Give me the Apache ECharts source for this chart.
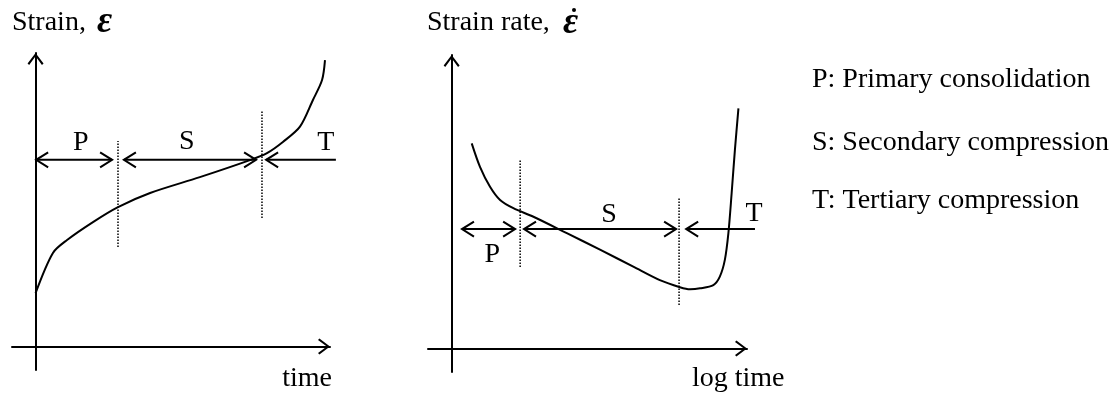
<!DOCTYPE html>
<html>
<head>
<meta charset="utf-8">
<script src="https://cdn.jsdelivr.net/npm/echarts@6/dist/echarts.min.js"></script>
<style>
  html, body { margin: 0; padding: 0; background: #fff; }
  #chart { width: 1114px; height: 397px; }
</style>
</head>
<body>
<div id="chart"></div>
<script>
// ---- Creep curve: strain against time ----
const strainTime  = [0, 0.59, 1.07, 1.95, 2.80, 3.89, 5.58, 7.28, 7.86, 8.40, 8.98, 9.42, 9.73, 9.83];
const strainValue = [1.82, 3.19, 3.63, 4.24, 4.75, 5.23, 5.77, 6.35, 6.59, 6.97, 7.49, 8.40, 9.08, 9.76];

// ---- Strain rate against log time ----
const rateLogTime = [0.68, 0.96, 1.30, 1.64, 2.09, 2.77, 3.90, 5.04, 6.15, 7.05, 7.73, 8.07, 8.41, 8.86, 9.08, 9.25, 9.37, 9.48, 9.59, 9.71];
const rateValue   = [6.99, 6.19, 5.51, 5.06, 4.78, 4.49, 3.93, 3.36, 2.79, 2.33, 2.09, 2.02, 2.05, 2.16, 2.45, 3.02, 3.93, 5.29, 6.76, 8.18];

// Stage boundaries: [x, yLow, yHigh]
const strainBounds = [[2.80, 3.39, 7.00], [7.69, 4.38, 8.06]];
const rateBounds   = [[2.32, 2.78, 6.42], [7.70, 1.48, 5.12]];

// Stage spans: [xFrom, xTo, level]; the arrow head sits at xTo (and at xFrom for two-headed spans)
const stageNames  = ['P', 'S', 'T'];
const stageHeads  = ['both', 'both', 'end'];
const strainSpans = [[0.02, 2.60, 6.36], [3.00, 7.49, 6.36], [10.20, 7.83, 6.36]];
const rateSpans   = [[0.35, 2.15, 4.07], [2.45, 7.60, 4.07], [10.27, 7.94, 4.07]];

// Stage letter anchors: [x, y]
const strainStageLabels = [[1.54, 6.95], [5.14, 6.97], [9.86, 6.93]];
const rateStageLabels   = [[1.38, 3.19], [5.33, 4.55], [10.24, 4.60]];

// Key text
const keyLines = ['P: Primary consolidation', 'S: Secondary compression', 'T: Tertiary compression'];

const FONT = '"Liberation Serif", "Times New Roman", serif';
const FS = 28;
const chevron = 'path://M8,0 L16,10.6 L14.4,12 L8,3.2 L1.6,12 L0,10.6 Z';

function zip(xs, ys) { return xs.map((x, i) => [x, ys[i]]); }

function axis(gridIndex) {
  return {
    gridIndex, type: 'value', min: -0.8, max: 10,
    axisLine: { show: true, onZero: true, symbol: ['none', chevron], symbolSize: [16, 12], symbolOffset: [0, -6],
                lineStyle: { color: '#000', width: 2 } },
    axisTick: { show: false }, axisLabel: { show: false }, splitLine: { show: false }
  };
}

function renderSpan(params, api) {
  const a = api.coord([api.value(0), api.value(2)]);
  const b = api.coord([api.value(1), api.value(2)]);
  const both = stageHeads[params.dataIndex] === 'both';
  const style = { stroke: '#000', lineWidth: 2, fill: null };
  const dir = Math.sign(b[0] - a[0]);
  const head = (p, d) => ({ type: 'polyline', shape: { points: [[p[0] + d * 12, p[1] - 7.5], [p[0], p[1]], [p[0] + d * 12, p[1] + 7.5]] }, style });
  const children = [{ type: 'line', shape: { x1: a[0], y1: a[1], x2: b[0], y2: b[1] }, style }, head(b, -dir)];
  if (both) children.push(head(a, dir));
  return { type: 'group', children };
}

function panelSeries(idx, curve, bounds, spans, labels) {
  const out = [];
  out.push({
    type: 'line', xAxisIndex: idx, yAxisIndex: idx, data: curve, smooth: 0.3,
    showSymbol: false, lineStyle: { color: '#000', width: 2 }, z: 5
  });
  bounds.forEach(b => out.push({
    type: 'line', xAxisIndex: idx, yAxisIndex: idx, data: [[b[0], b[1]], [b[0], b[2]]],
    showSymbol: false, lineStyle: { color: '#000', width: 1.5, type: [1.5, 1.5] }, z: 4
  }));
  out.push({
    type: 'custom', xAxisIndex: idx, yAxisIndex: idx, data: spans, renderItem: renderSpan,
    encode: { x: [0, 1], y: 2 }, clip: false, z: 6
  });
  out.push({
    type: 'scatter', xAxisIndex: idx, yAxisIndex: idx, symbolSize: 0, z: 7, clip: false,
    itemStyle: { color: '#000', opacity: 1 },
    data: labels.map((p, i) => ({ name: stageNames[i], value: p })),
    label: { show: true, position: 'inside', formatter: '{b}', color: '#000', fontFamily: FONT, fontSize: FS,
             textBorderWidth: 0, textBorderColor: 'transparent' }
  });
  return out;
}

function text(x, y, str, align, extra) {
  return {
    type: 'text', x, y, silent: true,
    style: Object.assign({ text: str, fill: '#000', fontFamily: FONT, fontSize: FS, align: align || 'left', verticalAlign: 'middle' }, extra || {})
  };
}

const epsStyle = { fontSize: 37, fontStyle: 'italic', fontWeight: 'bold' };

const chart = echarts.init(document.getElementById('chart'), null, { renderer: 'canvas' });
chart.setOption({
  animation: false,
  backgroundColor: '#fff',
  grid: [
    { left: 12, top: 53, width: 318, height: 317 },
    { left: 428, top: 55, width: 319, height: 317 }
  ],
  xAxis: [axis(0), axis(1)],
  yAxis: [axis(0), axis(1)],
  series: [
    ...panelSeries(0, zip(strainTime, strainValue), strainBounds, strainSpans, strainStageLabels),
    ...panelSeries(1, zip(rateLogTime, rateValue), rateBounds, rateSpans, rateStageLabels)
  ],
  graphic: [
    text(12, 23, 'Strain,'),
    text(97, 22, 'ε', 'left', epsStyle),
    text(332, 379, 'time', 'right'),
    text(427, 23, 'Strain rate,'),
    text(563, 23, 'ε', 'left', epsStyle),
    { type: 'circle', silent: true, shape: { cx: 574, cy: 10, r: 2 }, style: { fill: '#000' } },
    text(692, 379, 'log time', 'left'),
    text(812, 80, keyLines[0]),
    text(812, 143, keyLines[1]),
    text(812, 201, keyLines[2])
  ]
});
</script>
</body>
</html>
